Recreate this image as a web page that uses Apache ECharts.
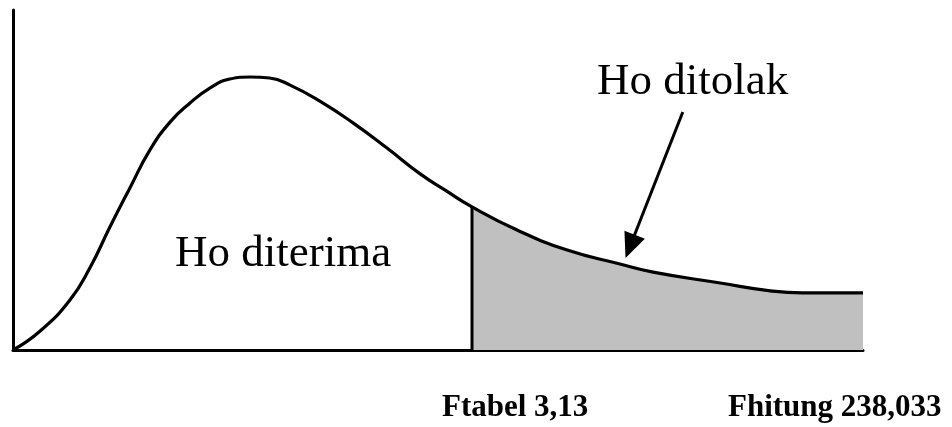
<!DOCTYPE html>
<html>
	<head>
		<meta charset="UTF-8">
		<title>Uji F</title>
		<script src="https://cdn.jsdelivr.net/npm/echarts@6/dist/echarts.min.js"></script>
		<style>
			html, body { margin: 0; padding: 0; background: #fff; }
			#chart { width: 952px; height: 427px; }
		</style>
	</head>
	<body>
		<div id="chart"></div>
		<script type="text/javascript">
			// kurva distribusi F (satuan 0-100)
			var curveX = [0, 3.2, 6.7, 9.1, 11.4, 13.8, 16.1, 18.5, 20.8, 23.2, 25.5, 27.9, 30.2, 32.6, 36.1, 40.0, 44.0, 47.9, 50.8, 54, 59.3, 65.2, 71.4, 75.3, 83.2, 89.1, 92.9, 100];
			var curveY = [0, 5.6, 14.7, 24.4, 36.2, 47.9, 58.8, 67.1, 72.6, 77.1, 79.7, 80.3, 80.0, 77.9, 73.2, 66.8, 59.4, 51.8, 47.1, 42.1, 35.3, 29.4, 25.3, 22.9, 19.7, 17.4, 16.8, 16.8];
			// batas daerah penolakan (Ftabel)
			var cutX = 54;
			// panah "Ho ditolak"
			var arrowFrom = [78.8, 70];
			var arrowTo = [72.6, 30.5];
			var labels = ['Ho diterima', 'Ho ditolak', 'Ftabel 3,13', 'Fhitung 238,033'];

			var curve = [];
			var tail = [];
			var cutY = 0;
			for (var i = 0; i < curveX.length; i++) {
				curve.push([curveX[i], curveY[i]]);
				if (curveX[i] >= cutX) tail.push([curveX[i], curveY[i]]);
				if (curveX[i] == cutX) cutY = curveY[i];
			}

			var myChart = echarts.init(document.getElementById('chart'));
			var serif = '"Liberation Serif", "Times New Roman", serif';
			var option = {
				animation: false,
				grid: { left: 13, right: 89, top: 10, bottom: 77 },
				xAxis: {
					type: 'value', min: 0, max: 100,
					axisLine: { show: true, lineStyle: { color: '#000', width: 3 } },
					axisTick: { show: false }, axisLabel: { show: false }, splitLine: { show: false }
				},
				yAxis: {
					type: 'value', min: 0, max: 100,
					axisLine: { show: true, lineStyle: { color: '#000', width: 3 } },
					axisTick: { show: false }, axisLabel: { show: false }, splitLine: { show: false }
				},
				series: [{
					// daerah penolakan (abu-abu)
					type: 'line',
					data: tail,
					smooth: 0.5,
					symbol: 'none',
					lineStyle: { width: 0 },
					areaStyle: { color: '#c0c0c0', opacity: 1 },
					z: 1
				}, {
					// kurva
					type: 'line',
					data: curve,
					smooth: 0.5,
					symbol: 'none',
					lineStyle: { color: '#000', width: 3.2 },
					z: 3
				}, {
					// garis Ftabel
					type: 'line',
					data: [[cutX, 0], [cutX, cutY]],
					symbol: 'none',
					lineStyle: { color: '#000', width: 3 },
					z: 3,
					markLine: {
						silent: true,
						symbol: ['none', 'triangle'],
						symbolSize: [22, 25],
						label: { show: false },
						lineStyle: { color: '#000', width: 3, type: 'solid' },
						data: [[{ coord: arrowFrom }, { coord: arrowTo }]]
					}
				}],
				graphic: [
					{ type: 'text', left: 175, top: 232, style: { text: labels[0], font: '45px ' + serif, fill: '#000' } },
					{ type: 'text', left: 597, top: 60, style: { text: labels[1], font: '45px ' + serif, fill: '#000' } },
					{ type: 'text', left: 442, top: 392, style: { text: labels[2], font: 'bold 31px ' + serif, fill: '#000' } },
					{ type: 'text', left: 728, top: 392, style: { text: labels[3], font: 'bold 31px ' + serif, fill: '#000' } }
				]
			};
			myChart.setOption(option);
		</script>
	</body>
</html>
